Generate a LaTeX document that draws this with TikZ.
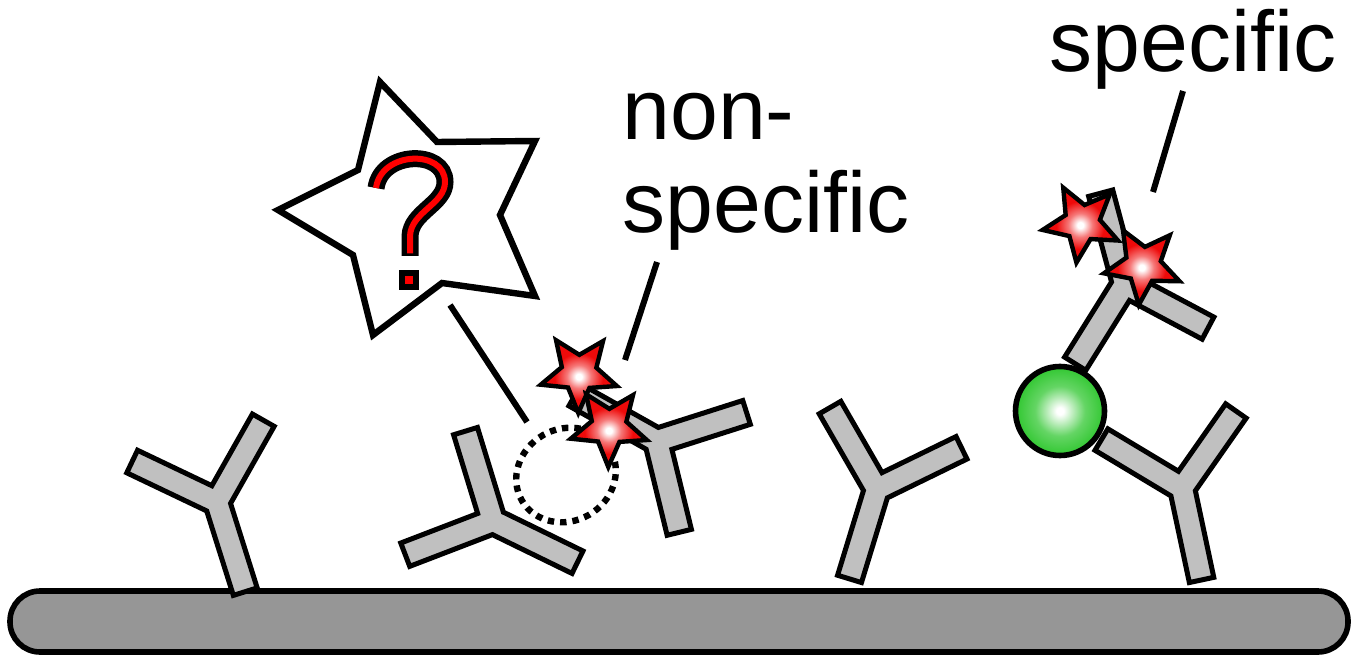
\documentclass[tikz,border=0pt]{standalone}
\usepackage{fontspec}
\setmainfont{Liberation Sans}
\usepackage{tikz}
\usetikzlibrary{shapes.geometric}
\definecolor{abgray}{RGB}{192,192,192}
\definecolor{surfgray}{RGB}{150,150,150}
\definecolor{tagred}{RGB}{238,10,10}
\definecolor{ballgreen}{RGB}{34,195,34}
\pgfdeclareradialshading{tagglow}{\pgfpoint{0bp}{0bp}}{color(0bp)=(white);
color(2bp)=(white); color(8bp)=(tagred!55!white); color(16bp)=(tagred); color(50bp)=(tagred)}
\pgfdeclareradialshading{ballglow}{\pgfpoint{0bp}{0bp}}{color(0bp)=(white);
color(2bp)=(white); color(14bp)=(ballgreen!70!white); color(28bp)=(ballgreen);
color(50bp)=(ballgreen!90!black)}
\tikzstyle{abody} = [draw=black, fill=abgray, line width=2.5pt, line join=miter]
\tikzstyle{surface} = [draw=black, fill=surfgray, line width=2.8pt, rounded corners=15pt]
\tikzstyle{tag} = [star, star points=5, star point ratio=2.2, minimum size=40pt,
inner sep=0pt, draw=black, line width=2.2pt, shading=tagglow]
\tikzstyle{ball} = [circle, minimum size=44.5pt, inner sep=0pt, draw=black,
line width=2.8pt, shading=ballglow]
\tikzstyle{bubble} = [draw=black, fill=white, line width=3.2pt, line join=miter]
\tikzstyle{pointer} = [line width=3pt]
\tikzstyle{ring} = [line width=3.2pt, dash pattern=on 3.2pt off 3pt]
\tikzstyle{lbl} = [font=\fontsize{43}{45.5}\selectfont, inner sep=0pt, anchor=base west]
% Y shaped antibody: centre, angle of the long arm
\newcommand{\antibody}[2]{%
  \draw[abody, shift={(#1)}, rotate=#2] (-7.57:94.83) -- (7.57:94.83) -- (66.5:13.63)
  -- (125.43:94.83) -- (140.57:94.83) -- (180:17.09) -- (219.43:94.83)
  -- (234.57:94.83) -- (-66.5:13.63) -- cycle;}

\begin{document}
\begin{tikzpicture}[x=0.5pt, y=0.5pt]
        \useasboundingbox (0,0) rectangle (1352,654);
        \draw[surface] (10,2) rectangle (1348,63);
        %
        \antibody{217,152}{-72.5}
        \antibody{493,133}{-26}
        \antibody{657,213}{150.7}
        \antibody{877,165}{-107}
        \antibody{1182,166}{-78}
        \antibody{1125,370}{105}
        \node (antigen) [ball] at (1060,243) {};
        %
        \draw[ring, rotate around={30:(566,179)}] (566,179) ellipse (51 and 46);
        \node (tagA) [tag, rotate=-37] at (579,281) {};
        \node (tagB) [tag, rotate=-37] at (609,227) {};
        \node (tagC) [tag, rotate=-44] at (1082,431) {};
        \node (tagD) [tag, rotate=-42] at (1143,389) {};
        %
        \draw[bubble] (380,572) -- (437,512) -- (535,513) -- (500,439) -- (535,358)
        -- (442,371) -- (373,319) -- (353,399) -- (278,444) -- (358,484) -- cycle;
        \draw[line width=8.5pt, line cap=butt] (376,466) .. controls (381,503) and (445,505) .. (445,472)
        .. controls (445,450) and (411,442) .. (410,418) -- (410,398);
        \draw[red, line width=3pt, line cap=butt] (376,466) .. controls (381,503) and (445,505) .. (445,472)
        .. controls (445,450) and (411,442) .. (410,418) -- (410,400.5);
        \fill (399,364) rectangle (419,384);
        \fill[red] (405,370) rectangle (413,378);
        %
        \coordinate (qa) at (450,349);
        \coordinate (qb) at (527,232);
        \coordinate (na) at (657,392);
        \coordinate (nb) at (625,294);
        \coordinate (sa) at (1183,563);
        \coordinate (sb) at (1153,462);
        \draw[pointer] (qa) -- (qb);
        \draw[pointer] (na) -- (nb);
        \draw[pointer] (sa) -- (sb);
        %
        \node (nonA) [lbl] at (622,514) {non-};
        \node (nonB) [lbl] at (622,422) {specific};
        \node (spec) [lbl] at (1049,582) {specific};
    \end{tikzpicture}
\end{document}
